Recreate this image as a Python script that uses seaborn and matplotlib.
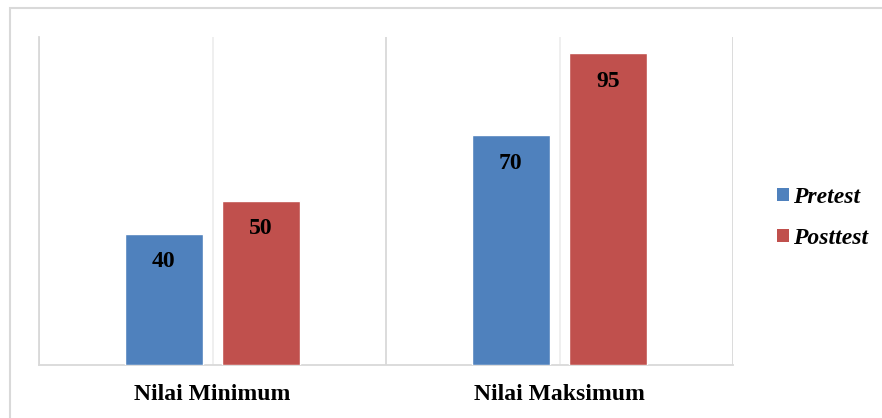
import matplotlib.pyplot as plt
import pandas as pd
import seaborn as sns
from matplotlib.patches import Patch, Rectangle
from matplotlib.ticker import FixedLocator

sns.set_style("white")
plt.rcParams['font.family'] = ['Liberation Serif', 'DejaVu Serif']
plt.rcParams['text.color'] = 'black'
plt.rcParams['xtick.color'] = 'black'

# data
categories = ["Nilai Minimum", "Nilai Maksimum"]
series = ["Pretest", "Posttest"]
pretest = [40, 70]
posttest = [50, 95]
colors = ["#4F81BD", "#C0504D"]

data = pd.DataFrame({
    "kategori": categories * 2,
    "tes": [series[0]] * 2 + [series[1]] * 2,
    "nilai": pretest + posttest,
})

fig = plt.figure(figsize=(8.82, 4.18), dpi=100)
ax = fig.add_axes([39 / 882, 1 - 365 / 418, (733 - 39) / 882, (365 - 37) / 418])

sns.barplot(data=data, x="kategori", y="nilai", hue="tes", order=categories,
            hue_order=series, palette=colors, width=0.56, gap=0.2,
            saturation=1, legend=False, ax=ax, zorder=3)

ax.set_xlim(-0.5, 1.5)
ax.set_ylim(0, 100)
ax.set_yticks([])
ax.set_xlabel("")
ax.set_ylabel("")

# gridlines: darker at category boundaries, lighter through the middle
ax.xaxis.set_major_locator(FixedLocator([0, 1]))
ax.xaxis.set_minor_locator(FixedLocator([-0.5, 0.5, 1.5]))
ax.set_xticklabels(categories, fontsize=17, fontweight="bold", color="black")
ax.tick_params(axis="x", which="both", length=0, pad=14)
ax.grid(True, axis="x", which="major", color="#eeeeee", lw=1.3, zorder=0)
ax.grid(True, axis="x", which="minor", color="#d9d9d9", lw=1.3, zorder=0)

for side in ["top", "right"]:
    ax.spines[side].set_visible(False)
for side in ["left", "bottom"]:
    ax.spines[side].set_color("#d9d9d9")
    ax.spines[side].set_linewidth(1.3)

# value labels inside bars
for bar in ax.patches:
    h = bar.get_height()
    ax.annotate(f"{h:.0f}", (bar.get_x() + bar.get_width() / 2, h),
                xytext=(0, -20), textcoords="offset points",
                ha="center", va="center", fontsize=17, fontweight="bold",
                color="black")

handles = [Patch(facecolor=c, edgecolor="none") for c in colors]
fig.legend(handles, series, loc="center left", bbox_to_anchor=(756 / 882, 1 - 218 / 418),
           frameon=False, handlelength=0.5, handleheight=0.5, handletextpad=0.15,
           labelspacing=0.85, prop={"size": 17, "weight": "bold", "style": "italic"})

# outer chart border
fig.patches.append(Rectangle((10 / 882, -0.1), 1.2, 1 - 8 / 418 + 0.1,
                             transform=fig.transFigure, fill=False,
                             edgecolor="#d9d9d9", lw=1.5))

plt.savefig("out.png", dpi=100)
